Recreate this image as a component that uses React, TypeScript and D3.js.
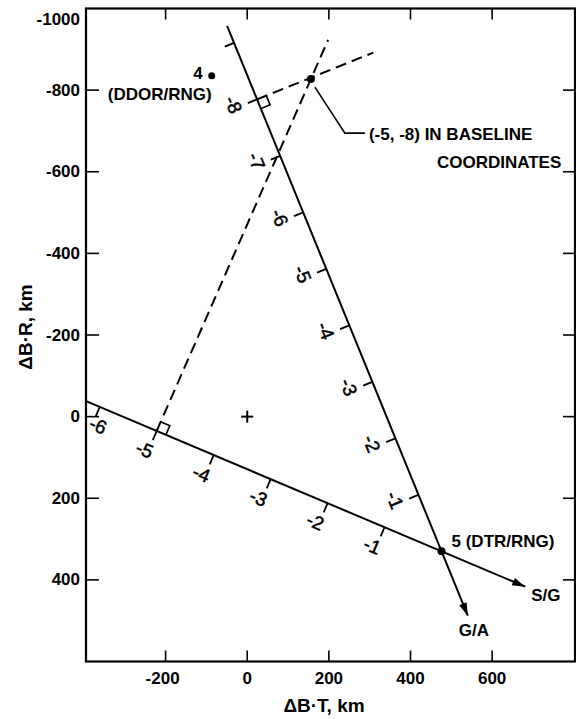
import React from "react";
import * as d3 from "d3";

// ---- data (km) ----
const xTicks = [-200, 0, 200, 400, 600];
const yTicks = [-1000, -800, -600, -400, -200, 0, 200, 400];
const xDomain = [-395, 803];
const yDomain = [-1000, 600];

const point5 = { x: 476, y: 330, label: "5 (DTR/RNG)" };
const point4 = { x: -87, y: -835, num: "4", label: "(DDOR/RNG)" };
const pointP = { x: 156, y: -827, label1: "(-5, -8) IN BASELINE", label2: "COORDINATES" };

const sgAngleDeg = 22.9;
const gaAngleDeg = 67.8;
const sgUnitKm = 151.5;
const gaUnitKm = 149.5;
const sgExtent = [-6.25, 1.47];
const gaExtent = [-9.3, 1.14];
const sgTickValues = [-1, -2, -3, -4, -5, -6];
const sgTickLabels = ["-1", "-2", "-3", "-4", "-5", "-6"];
const gaTickValues = [-1, -2, -3, -4, -5, -6, -7, -8, -9];
const gaTickLabels = ["-1", "-2", "-3", "-4", "-5", "-6", "-7", "-8", ""];
const sgFootValue = -5;
const gaFootValue = -8;
const dashEnd1 = { x: 198, y: -923 };
const dashEnd2 = { x: 309, y: -892 };

const W = 576;
const H = 719;
const FONT = "'Liberation Sans', Arial, sans-serif";

export default function App() {
  const x = d3.scaleLinear().domain(xDomain).range([86, 575]);
  const y = d3.scaleLinear().domain(yDomain).range([8.5, 661.5]);
  const left = 86, right = 575, top = 8.5, bottom = 661.5;

  const mk = (ang: number, unit: number) => {
    const r = (ang * Math.PI) / 180;
    const u = [Math.cos(r), Math.sin(r)];
    const at = (v: number) => ({ x: point5.x + v * unit * u[0], y: point5.y + v * unit * u[1] });
    return { u, n: [-u[1], u[0]], at };
  };
  const sg = mk(sgAngleDeg, sgUnitKm);
  const ga = mk(gaAngleDeg, gaUnitKm);
  const P = (p: { x: number; y: number }) => [x(p.x), y(p.y)];

  const line = d3.line();

  const arrowHead = (tip: number[], dir: number[]) => {
    const L = 13, w = 4;
    const bx = tip[0] - dir[0] * L, by = tip[1] - dir[1] * L;
    const nx = -dir[1], ny = dir[0];
    return `M${tip[0]},${tip[1]}L${bx + nx * w},${by + ny * w}L${bx - nx * w},${by - ny * w}Z`;
  };

  const sgStart = P(sg.at(sgExtent[0]));
  const sgEnd = P(sg.at(sgExtent[1]));
  const gaStart = P(ga.at(gaExtent[0]));
  const gaEnd = P(ga.at(gaExtent[1]));

  const tickMarks = (axis: any, vals: number[], labels: string[], ang: number, perpOff: number, alongOff: number) =>
    vals.map((v, i) => {
      const [px, py] = P(axis.at(v));
      const n = axis.n, u = axis.u;
      const tl = 10;
      const lx = Math.max(left + 12, px + n[0] * perpOff + u[0] * alongOff);
      const ly = py + n[1] * perpOff + u[1] * alongOff;
      return (
        <g key={v}>
          <line x1={px} y1={py} x2={px + n[0] * tl} y2={py + n[1] * tl} stroke="#000" strokeWidth={1.8} />
          {labels[i] && (
            <text
              x={lx}
              y={ly}
              transform={`rotate(${ang},${lx},${ly})`}
              textAnchor="middle"
              dominantBaseline="central"
              fontFamily={FONT}
              fontSize={19}
              stroke="#000"
              strokeWidth={0.5}
              fill="#000"
            >
              {labels[i]}
            </text>
          )}
        </g>
      );
    });

  const square = (axis: any, v: number, sideSign: number) => {
    const [px, py] = P(axis.at(v));
    const a = 10;
    const u = axis.u, n = axis.n;
    const pA = [px + u[0] * a, py + u[1] * a];
    const pB = [px + u[0] * a - n[0] * a * sideSign, py + u[1] * a - n[1] * a * sideSign];
    const pC = [px - n[0] * a * sideSign, py - n[1] * a * sideSign];
    return <path d={`M${pA[0]},${pA[1]}L${pB[0]},${pB[1]}L${pC[0]},${pC[1]}`} fill="none" stroke="#000" strokeWidth={1.6} />;
  };

  const sgFoot = P(sg.at(sgFootValue));
  const gaFoot = P(ga.at(gaFootValue));
  const pP = P(pointP);
  const p4 = P(point4);
  const p5 = P(point5);

  const elbow = [pP[0] + 34, pP[1] + 54];

  return (
    <svg width={W} height={H} style={{ position: "absolute", left: 0, top: 0, background: "#fff" }}>
      <rect x={0} y={0} width={W} height={H} fill="#fff" />
      {/* frame */}
      <rect x={left} y={top} width={right - left} height={bottom - top} fill="none" stroke="#000" strokeWidth={2.2} />
      {/* x ticks */}
      {xTicks.map((t) => (
        <g key={"x" + t}>
          <line x1={x(t)} x2={x(t)} y1={bottom} y2={bottom - 11} stroke="#000" strokeWidth={1.6} />
          <line x1={x(t)} x2={x(t)} y1={top} y2={top + 11} stroke="#000" strokeWidth={1.6} />
          <text x={x(t) - (t < 0 ? 3 : 0)} y={684} textAnchor="middle" fontFamily={FONT} fontWeight="bold" fontSize={17}>
            {t}
          </text>
        </g>
      ))}
      {/* y ticks */}
      {yTicks.map((t) => (
        <g key={"y" + t}>
          {t !== yDomain[0] && (
            <>
              <line x1={left} x2={left + 13} y1={y(t)} y2={y(t)} stroke="#000" strokeWidth={1.6} />
              <line x1={right} x2={right - 12} y1={y(t)} y2={y(t)} stroke="#000" strokeWidth={1.6} />
            </>
          )}
          <text x={80} y={Math.max(y(t), 19)} textAnchor="end" dominantBaseline="central" fontFamily={FONT} fontWeight="bold" fontSize={17}>
            {t}
          </text>
        </g>
      ))}
      {/* axis titles */}
      <text x={324} y={712} textAnchor="middle" fontFamily={FONT} fontWeight="bold" fontSize={19}>
        ΔB·T, km
      </text>
      <text
        x={32}
        y={327}
        transform="rotate(-90,32,327)"
        textAnchor="middle"
        fontFamily={FONT}
        fontWeight="bold"
        fontSize={19}
      >
        ΔB·R, km
      </text>

      {/* origin cross */}
      <g stroke="#000" strokeWidth={2}>
        <line x1={x(0) - 6} x2={x(0) + 6} y1={y(0)} y2={y(0)} />
        <line x1={x(0)} x2={x(0)} y1={y(0) - 6} y2={y(0) + 6} />
      </g>

      {/* dashed perpendiculars */}
      <path d={line([sgFoot, P(dashEnd1)] as any) || ""} stroke="#000" strokeWidth={2} strokeDasharray="11,6" fill="none" />
      <path d={line([gaFoot, P(dashEnd2)] as any) || ""} stroke="#000" strokeWidth={2} strokeDasharray="11,6" fill="none" />

      {/* baselines */}
      <path d={line([sgStart, sgEnd] as any) || ""} stroke="#000" strokeWidth={2} fill="none" />
      <path d={arrowHead(sgEnd, sg.u)} fill="#000" />
      <path d={line([gaStart, gaEnd] as any) || ""} stroke="#000" strokeWidth={2} fill="none" />
      <path d={arrowHead(gaEnd, ga.u)} fill="#000" />

      {tickMarks(sg, sgTickValues, sgTickLabels, sgAngleDeg, 22, -4)}
      {tickMarks(ga, gaTickValues, gaTickLabels, gaAngleDeg, 24, -4)}

      {square(sg, sgFootValue, 1)}
      {square(ga, gaFootValue, 1)}

      {/* points */}
      <circle cx={p5[0]} cy={p5[1]} r={4} fill="#000" />
      <circle cx={p4[0]} cy={p4[1]} r={3.5} fill="#000" />
      <circle cx={pP[0]} cy={pP[1]} r={4} fill="#000" />

      <text x={p5[0] + 10} y={p5[1] - 4} fontFamily={FONT} fontWeight="bold" fontSize={17}>
        {point5.label}
      </text>
      <text x={p4[0] - 9} y={p4[1] + 3} textAnchor="end" fontFamily={FONT} fontWeight="bold" fontSize={17}>
        {point4.num}
      </text>
      <text x={p4[0]} y={p4[1] + 24} textAnchor="end" fontFamily={FONT} fontWeight="bold" fontSize={17}>
        {point4.label}
      </text>
      <text x={sgEnd[0] + 6} y={sgEnd[1] + 14} fontFamily={FONT} fontWeight="bold" fontSize={17}>
        S/G
      </text>
      <text x={gaEnd[0] + 6} y={gaEnd[1] + 20} textAnchor="middle" fontFamily={FONT} fontWeight="bold" fontSize={17}>
        G/A
      </text>

      {/* annotation */}
      <path
        d={`M${pP[0] + 4},${pP[1] + 8}L${elbow[0]},${elbow[1]}L${elbow[0] + 20},${elbow[1]}`}
        fill="none"
        stroke="#000"
        strokeWidth={1.6}
      />
      <text x={elbow[0] + 24} y={elbow[1] + 7} fontFamily={FONT} fontWeight="bold" fontSize={17}>
        {pointP.label1}
      </text>
      <text x={elbow[0] + 92} y={elbow[1] + 35} fontFamily={FONT} fontWeight="bold" fontSize={17}>
        {pointP.label2}
      </text>
    </svg>
  );
}
